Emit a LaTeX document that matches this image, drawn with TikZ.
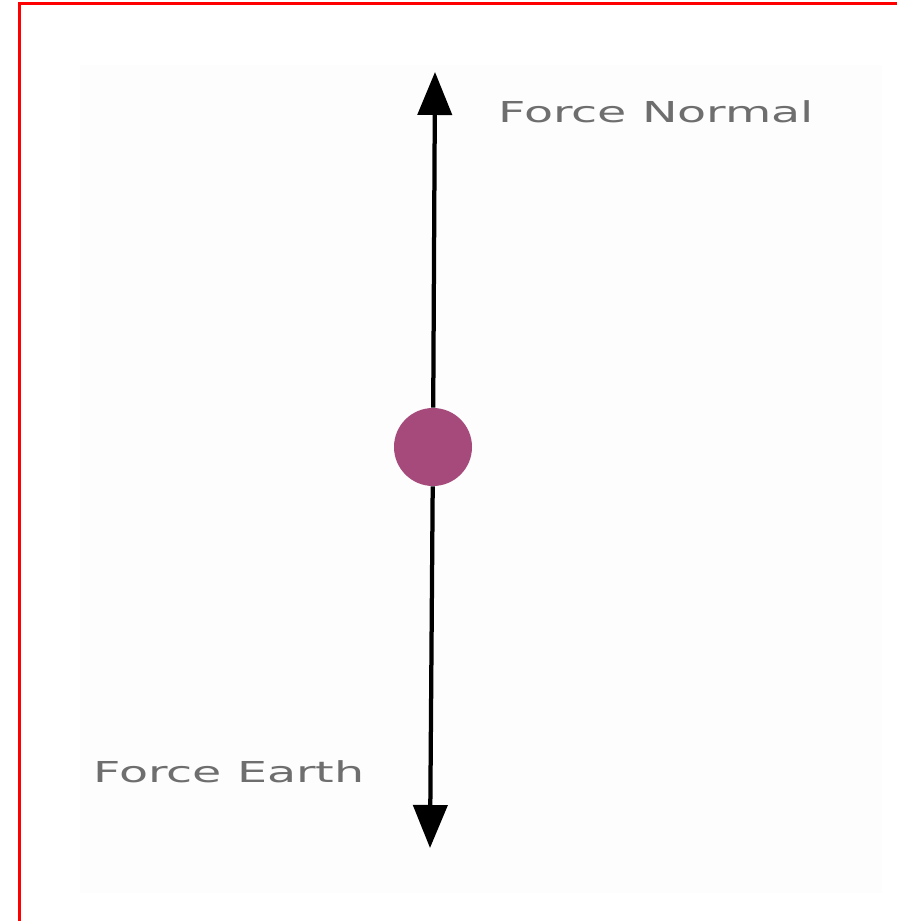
\documentclass[tikz,border=0pt]{standalone}
\usepackage{fontspec}
\usepackage{xcolor}
\usetikzlibrary{arrows.meta}
\newfontfamily\forcefont[FakeStretch=1.65]{DejaVu Sans}
\definecolor{FDFrame}{HTML}{FF0000}
\definecolor{FDPanel}{HTML}{FDFDFD}
\definecolor{FDBall}{HTML}{A54A7B}
\definecolor{FDText}{HTML}{6E6E6E}

\begin{document}
\begin{tikzpicture}[x=1cm,y=1cm]
\path[use as bounding box] (0,0) rectangle (17.94,18.42);
\fill[white] (0,0) rectangle (17.94,18.42);
\draw[FDFrame,line width=.06cm] (0.38,0) -- (0.38,18.34) -- (17.94,18.34);
\fill[FDPanel] (1.60,0.56) rectangle (17.64,17.12);
\coordinate (normalTip) at (8.70,16.98);
\coordinate (earthTip) at (8.60,1.46);
\node[circle,fill=FDBall,minimum size=1.56cm,inner sep=0pt] (ball) at (8.66,9.48) {};
\draw[line width=.085cm,-{Triangle[length=.86cm,width=.68cm]}] (ball) -- (normalTip);
\draw[line width=.085cm,-{Triangle[length=.86cm,width=.68cm]}] (ball) -- (earthTip);
\node[anchor=west,inner sep=0pt,text=FDText,font=\forcefont\fontsize{16.4}{18}\selectfont] (normalLabel) at (9.96,16.18) {Force Normal};
\node[anchor=west,inner sep=0pt,text=FDText,font=\forcefont\fontsize{16.4}{18}\selectfont] (earthLabel) at (1.86,2.98) {Force Earth};
\end{tikzpicture}
\end{document}
